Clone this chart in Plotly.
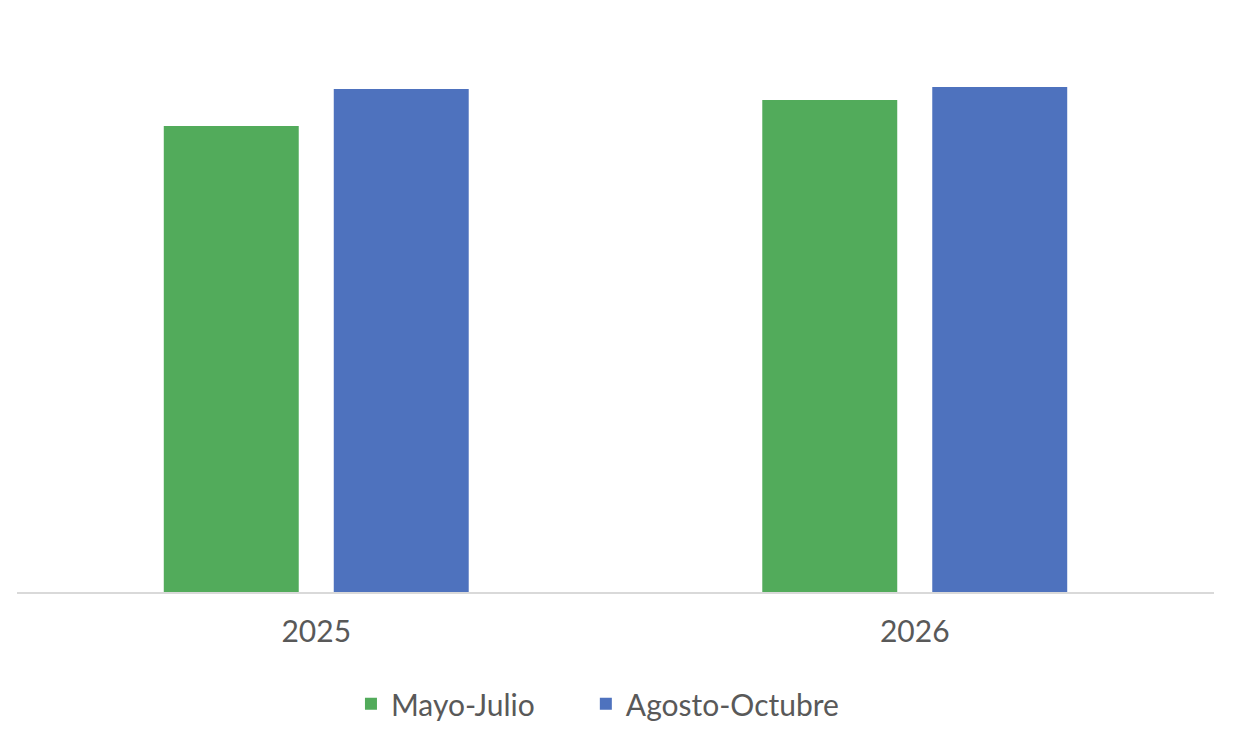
import plotly.graph_objects as go

categories = ["2025", "2026"]
mayo_julio = [93.2, 98.4]
agosto_octubre = [100.6, 101.0]
series_names = ["Mayo-Julio", "Agosto-Octubre"]

GREEN = "#52AB5B"
BLUE = "#4E72BE"
TEXT = "#595959"
FONT = "Lato, 'DejaVu Sans', sans-serif"
PAD = "\u00a0" * 6  # visual spacing between legend entries

fig = go.Figure()
fig.add_trace(go.Bar(x=categories, y=mayo_julio, name=series_names[0] + PAD,
                     marker=dict(color=GREEN, line=dict(width=0))))
fig.add_trace(go.Bar(x=categories, y=agosto_octubre, name=series_names[1],
                     marker=dict(color=BLUE, line=dict(width=0))))

fig.update_layout(
    width=1238, height=740,
    margin=dict(l=9, r=32, t=22, b=156),
    paper_bgcolor="white", plot_bgcolor="white",
    barmode="group", bargap=0.432, bargroupgap=0.206,
    font=dict(family=FONT, color=TEXT, size=30),
    showlegend=True,
    legend=dict(orientation="h", x=0.279, xanchor="left", y=-0.199, yanchor="middle",
                font=dict(size=30, color=TEXT), itemsizing="constant",
                traceorder="normal"),
    xaxis=dict(type="category", showline=True, linecolor="#D9D9D9", linewidth=2,
               ticks="", showgrid=False, ticklabelstandoff=12,
               tickfont=dict(size=30, color=TEXT)),
    yaxis=dict(range=[0, 112.4], visible=False, showgrid=False, zeroline=False),
)

fig.write_html("out.html")
